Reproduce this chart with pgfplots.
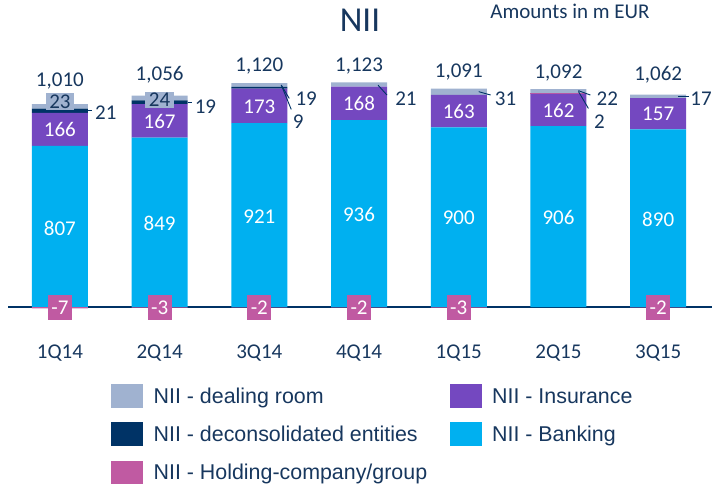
\documentclass[border=0pt]{standalone}
\usepackage{pgfplots}
\pgfplotsset{compat=1.18}
\usepackage{fontspec}
\setmainfont{Carlito}
\newfontfamily\arialfont{Liberation Sans}
\definecolor{cBank}{RGB}{0,176,240}
\definecolor{cIns}{RGB}{116,72,192}
\definecolor{cDec}{RGB}{0,51,102}
\definecolor{cDeal}{RGB}{160,178,208}
\definecolor{cHold}{RGB}{192,90,162}
\definecolor{cText}{RGB}{23,55,94}
\pgfplotsset{
  frame/.style={scale only axis, width=704pt, height=239.5pt,
    xmin=-0.52, xmax=6.54, ymin=0, ymax=1200, clip=false,
    at={(59.9pt,176pt)}, anchor=origin},
  lab/.style={draw=none, mark=none, forget plot, nodes near coords,
    point meta=explicit symbolic, nodes near coords align=center,
    every node near coord/.append style={font=\fontsize{21}{25}\selectfont, inner sep=0pt, #1}},
  lead/.style={draw=cDec, line width=0.9pt, mark=none, forget plot},
  myleg/.style={legend image code/.code={\fill[#1] (0pt,-11.5pt) rectangle (31pt,11.5pt);}},
}
\begin{document}
\begin{tikzpicture}
\useasboundingbox (0pt,0pt) rectangle (712pt,483pt);
\begin{axis}[frame, ybar stacked, bar width=56pt,
  axis y line=none, axis x line=bottom,
  x axis line style={-, draw=cDec, line width=2pt},
  xtick={0,...,6}, xticklabels={1Q14,2Q14,3Q14,4Q14,1Q15,2Q15,3Q15},
  major tick length=0pt,
  xticklabel style={anchor=center, yshift=-46pt, font=\fontsize{21}{25}\selectfont, text=cText},
]
\addplot[fill=cBank, draw=none] coordinates {(0,807)(1,849)(2,921)(3,936)(4,900)(5,906)(6,890)};
\addplot[fill=cIns, draw=none] coordinates {(0,166)(1,167)(2,173)(3,168)(4,163)(5,162)(6,157)};
\addplot[fill=cHold, draw=none] coordinates {(0,0)(1,0)(2,0)(3,0)(4,0)(5,2)(6,0)};
\addplot[fill=cDec, draw=none] coordinates {(0,21)(1,19)(2,9)(3,0)(4,0)(5,0)(6,0)};
\addplot[fill=cDeal, draw=none] coordinates {(0,23)(1,24)(2,19)(3,21)(4,31)(5,22)(6,17)};
\end{axis}
\begin{axis}[frame, hide axis,
  legend columns=2, legend cell align=left,
  legend style={at={(0.1463,-0.3194)}, anchor=north west, draw=none, fill=none,
    inner sep=0pt, row sep=15pt, column sep=11pt,
    /tikz/every even column/.append style={column sep=22.5pt},
    font=\arialfont\fontsize{21.4}{25}\selectfont, text=cText,
    nodes={inner sep=0pt, text height=17.8pt, text depth=2.5pt}},
]
\addlegendimage{myleg=cDeal}\addlegendentry{NII - dealing room}
\addlegendimage{myleg=cIns}\addlegendentry{NII - Insurance}
\addlegendimage{myleg=cDec}\addlegendentry{NII - deconsolidated entities}
\addlegendimage{myleg=cBank}\addlegendentry{NII - Banking}
\addlegendimage{myleg=cHold}\addlegendentry{NII - Holding-company/group}
% holding-company negative values
\addplot[ybar, bar width=56pt, fill=cHold, draw=none, forget plot] coordinates {(0,-7)(1,-3)(2,-2)(3,-2)(4,-3)(6,-2)};
% leader lines
\addplot[lead] coordinates {(0.28,987)(0.325,987)};
\addplot[lead] coordinates {(1.28,1025)(1.325,1025)};
\addplot[lead] coordinates {(2.22,1112)(2.30,1045)};
\addplot[lead] coordinates {(2.22,1112)(2.32,990)};
\addplot[lead] coordinates {(3.19,1112)(3.28,1062)};
\addplot[lead] coordinates {(4.20,1079)(4.32,1062)};
\addplot[lead] coordinates {(5.20,1084)(5.32,1062)};
\addplot[lead] coordinates {(5.20,1080)(5.30,995)};
\addplot[lead] coordinates {(6.20,1054)(6.31,1054)};
% banking labels
\addplot[lab={text=white}] table[meta=l] {
x y l
0 395 807
1 420 849
2 455 921
3 463 936
4 445 900
5 448 906
6 440 890
};
% insurance labels
\addplot[lab={text=white}] table[meta=l] {
x y l
0 888 166
1 930 167
2 1005 173
3 1018 168
4 980 163
5 985 162
6 966 157
};
% dealing room boxed labels
\addplot[lab={fill=cDeal, text=cText, inner xsep=3.5pt, inner ysep=1.5pt, text height=13.2pt, text depth=0pt}] table[meta=l] {
x y l
0 1030 23
1 1037 24
};
% totals
\addplot[lab={text=cText}] table[meta=l] {
x y l
0 1130 1,010
1 1163 1,056
2 1208 1,120
3 1208 1,123
4 1175 1,091
5 1170 1,092
6 1163 1,062
};
% side labels
\addplot[lab={text=cText}] table[meta=l] {
x y l
0.46 972 21
1.46 1003 19
2.47 1045 19
2.39 930 9
3.47 1045 21
4.47 1045 31
5.49 1045 22
5.41 927 2
6.43 1045 17
};
% holding labels
\addplot[lab={fill=cHold, text=white, inner xsep=3.5pt, inner ysep=6.2pt, text height=13.2pt, text depth=0pt}] table[meta=l] {
x y l
0 -2 -7
1 -2 -3
2 -2 -2
3 -2 -2
4 -2 -3
6 -2 -2
};
\end{axis}
\node[anchor=base, font=\fontsize{35}{40}\selectfont, text=cText] at (360pt,451pt) {NII};
\node[anchor=base, font=\fontsize{21}{25}\selectfont, text=cText] at (570pt,464pt) {Amounts in m EUR};
\end{tikzpicture}
\end{document}
